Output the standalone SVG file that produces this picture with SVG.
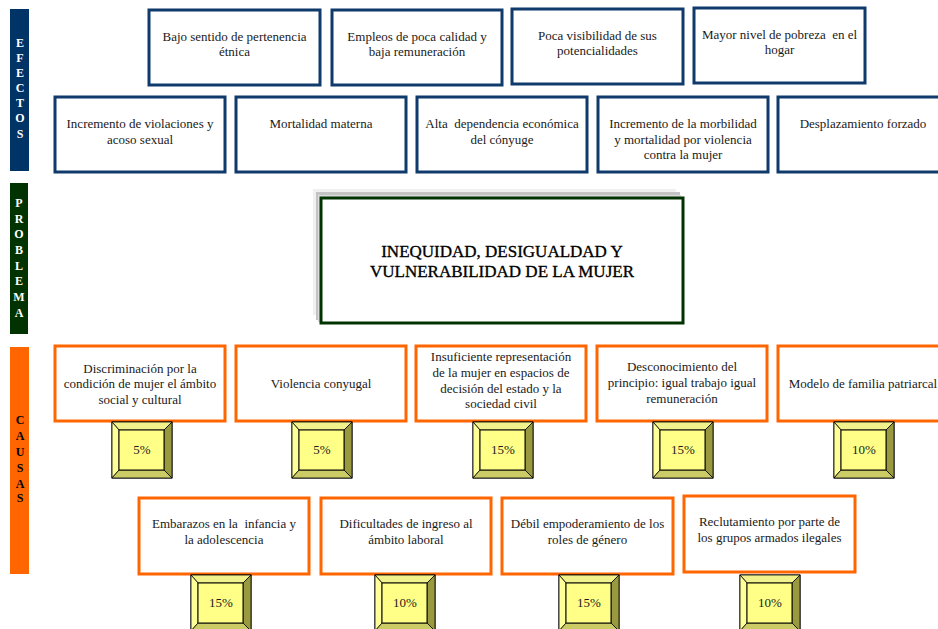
<svg xmlns="http://www.w3.org/2000/svg" width="938" height="629" viewBox="0 0 938 629">
<style>
text{font-family:'Liberation Serif','DejaVu Serif',serif;white-space:pre}
.t{font-size:13px;fill:#1a1a1a;text-anchor:middle}
.ef{fill:#fff;stroke:#0f3a6b;stroke-width:3}
.ca{fill:#fff;stroke:#ff6600;stroke-width:3}
.bl{font-size:12px;font-weight:bold;text-anchor:middle}
.pc{font-size:13px;fill:#1a1a1a;text-anchor:middle}
.title{font-size:17px;fill:#000;stroke:#000;stroke-width:0.35;text-anchor:middle}
</style>
<defs>
<g id="bevel">
<rect x="0" y="0" width="60" height="56" fill="#ffff99" stroke="#000" stroke-width="1"/>
<polygon points="0,0 60,0 52,8 7,8" fill="#f2f28c" stroke="#000" stroke-width="0.8"/>
<polygon points="0,0 7,8 7,48 0,56" fill="#ffff99" stroke="#000" stroke-width="0.8"/>
<polygon points="60,0 60,56 52,48 52,8" fill="#999940" stroke="#000" stroke-width="0.8"/>
<polygon points="0,56 60,56 52,48 7,48" fill="#cccc66" stroke="#000" stroke-width="0.8"/>
<rect x="7" y="8" width="45" height="40" fill="#ffff88" stroke="#000" stroke-width="1"/>
</g>
</defs>
<rect width="938" height="629" fill="#fff"/>

<g id="bar-efectos">
<rect x="10" y="9" width="19" height="162" fill="#003366"/>
<g class="bl" fill="#fff">
<text x="20" y="47">E</text><text x="20" y="62">F</text><text x="20" y="77">E</text><text x="20" y="92">C</text><text x="20" y="107">T</text><text x="20" y="122">O</text><text x="20" y="138">S</text>
</g>
</g>
<g id="bar-problema">
<rect x="10" y="183" width="18" height="151" fill="#003300"/>
<g class="bl" fill="#fff">
<text x="19" y="207">P</text><text x="19" y="223">R</text><text x="19" y="238">O</text><text x="19" y="254">B</text><text x="19" y="270">L</text><text x="19" y="285">E</text><text x="19" y="301">M</text><text x="19" y="317">A</text>
</g>
</g>
<g id="bar-causas">
<rect x="10" y="347" width="19" height="227" fill="#ff6600"/>
<g class="bl" fill="#000">
<text x="20" y="424">C</text><text x="20" y="440">A</text><text x="20" y="456">U</text><text x="20" y="472">S</text><text x="20" y="488">A</text><text x="20" y="502">S</text>
</g>
</g>

<g id="efectos">
<g id="e1"><rect class="ef" x="149" y="10" width="171" height="75"/><text class="t" x="234.5" y="41">Bajo sentido de pertenencia</text><text class="t" x="234.5" y="56">étnica</text></g>
<g id="e2"><rect class="ef" x="332" y="10" width="170" height="75"/><text class="t" x="417" y="41">Empleos de poca calidad y</text><text class="t" x="417" y="56">baja remuneración</text></g>
<g id="e3"><rect class="ef" x="512" y="9" width="171" height="75"/><text class="t" x="597.5" y="40">Poca visibilidad de sus</text><text class="t" x="597.5" y="55">potencialidades</text></g>
<g id="e4"><rect class="ef" x="694" y="8" width="171" height="75"/><text class="t" x="779.5" y="39">Mayor nivel de pobreza  en el</text><text class="t" x="779.5" y="54">hogar</text></g>
<g id="e5"><rect class="ef" x="55" y="97" width="170" height="75"/><text class="t" x="140" y="128">Incremento de violaciones y</text><text class="t" x="140" y="144">acoso sexual</text></g>
<g id="e6"><rect class="ef" x="236" y="97" width="170" height="75"/><text class="t" x="321" y="128">Mortalidad materna</text></g>
<g id="e7"><rect class="ef" x="417" y="97" width="170" height="75"/><text class="t" x="502" y="128">Alta  dependencia económica</text><text class="t" x="502" y="144">del cónyuge</text></g>
<g id="e8"><rect class="ef" x="598" y="97" width="170" height="75"/><text class="t" x="683" y="128">Incremento de la morbilidad</text><text class="t" x="683" y="144">y mortalidad por violencia</text><text class="t" x="683" y="159">contra la mujer</text></g>
<g id="e9"><rect class="ef" x="778" y="97" width="170" height="75"/><text class="t" x="863" y="128">Desplazamiento forzado</text></g>
</g>

<g id="problema">
<rect x="313" y="189" width="363" height="126" fill="#f0f0f0"/>
<rect x="316" y="192" width="364" height="128" fill="#c4c4c4"/>
<rect x="318" y="195" width="363" height="127" fill="#dcdcdc"/>
<rect x="321" y="198" width="362" height="125" fill="#fff" stroke="#003300" stroke-width="3"/>
<text class="title" x="502" y="257">INEQUIDAD, DESIGUALDAD Y</text>
<text class="title" x="502" y="277">VULNERABILIDAD DE LA MUJER</text>
</g>

<g id="causas">
<g id="c1"><rect class="ca" x="55" y="346" width="170" height="75"/><text class="t" x="140" y="373">Discriminación por la</text><text class="t" x="140" y="388">condición de mujer el ámbito</text><text class="t" x="140" y="404">social y cultural</text><use href="#bevel" x="112" y="422"/><text class="pc" x="142" y="454">5%</text></g>
<g id="c2"><rect class="ca" x="236" y="346" width="170" height="75"/><text class="t" x="321" y="388">Violencia conyugal</text><use href="#bevel" x="292" y="422"/><text class="pc" x="322" y="454">5%</text></g>
<g id="c3"><rect class="ca" x="416" y="346" width="170" height="75"/><text class="t" x="501" y="361">Insuficiente representación</text><text class="t" x="501" y="377">de la mujer en espacios de</text><text class="t" x="501" y="393">decisión del estado y la</text><text class="t" x="501" y="408">sociedad civil</text><use href="#bevel" x="473" y="422"/><text class="pc" x="503" y="454">15%</text></g>
<g id="c4"><rect class="ca" x="597" y="346" width="170" height="75"/><text class="t" x="682" y="371">Desconocimiento del</text><text class="t" x="682" y="387">principio: igual trabajo igual</text><text class="t" x="682" y="403">remuneración</text><use href="#bevel" x="653" y="422"/><text class="pc" x="683" y="454">15%</text></g>
<g id="c5"><rect class="ca" x="778" y="346" width="170" height="75"/><text class="t" x="863" y="388">Modelo de familia patriarcal</text><use href="#bevel" x="834" y="422"/><text class="pc" x="864" y="454">10%</text></g>
<g id="c6"><rect class="ca" x="139" y="498" width="170" height="76"/><text class="t" x="224" y="528">Embarazos en la  infancia y</text><text class="t" x="224" y="544">la adolescencia</text><use href="#bevel" x="191" y="575"/><text class="pc" x="221" y="607">15%</text></g>
<g id="c7"><rect class="ca" x="321" y="498" width="170" height="76"/><text class="t" x="406" y="528">Dificultades de ingreso al</text><text class="t" x="406" y="544">ámbito laboral</text><use href="#bevel" x="375" y="575"/><text class="pc" x="405" y="607">10%</text></g>
<g id="c8"><rect class="ca" x="502" y="498" width="171" height="76"/><text class="t" x="587.5" y="528">Débil empoderamiento de los</text><text class="t" x="587.5" y="544">roles de género</text><use href="#bevel" x="559" y="575"/><text class="pc" x="589" y="607">15%</text></g>
<g id="c9"><rect class="ca" x="684" y="496" width="171" height="76"/><text class="t" x="769.5" y="526">Reclutamiento por parte de</text><text class="t" x="769.5" y="542">los grupos armados ilegales</text><use href="#bevel" x="740" y="575"/><text class="pc" x="770" y="607">10%</text></g>
</g>
<g id="connectors"></g>
</svg>
